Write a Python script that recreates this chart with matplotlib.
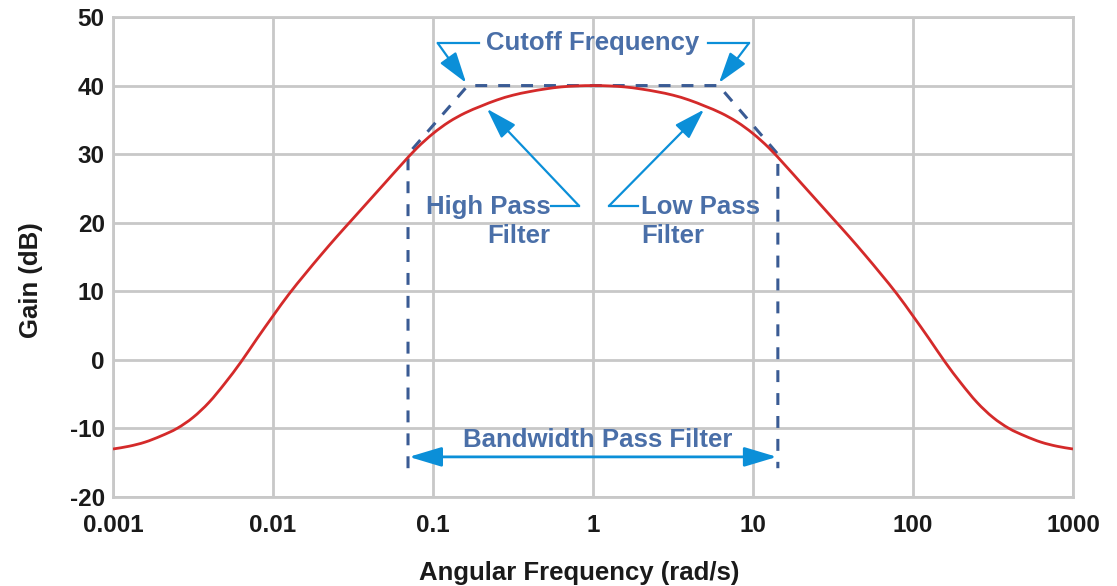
import matplotlib
matplotlib.use("Agg")
import matplotlib.pyplot as plt
from matplotlib.path import Path
from matplotlib.patches import PathPatch
import numpy as np

# ---- data ----
log_w = [-3.0, -2.9, -2.8, -2.7, -2.6, -2.5, -2.4, -2.3, -2.2, -2.1,
         -2.0, -1.9, -1.8, -1.7, -1.6, -1.5, -1.4, -1.3, -1.2, -1.1,
         -1.0, -0.9, -0.8, -0.7, -0.6, -0.5, -0.4, -0.3, -0.2, -0.1,
         0.0, 0.1, 0.2, 0.3, 0.4, 0.5, 0.6, 0.7, 0.8, 0.9,
         1.0, 1.1, 1.2, 1.3, 1.4, 1.5, 1.6, 1.7, 1.8, 1.9,
         2.0, 2.1, 2.2, 2.3, 2.4, 2.5, 2.6, 2.7, 2.8, 2.9, 3.0]
gain_db = [-13.0, -12.6, -12.0, -11.1, -10.0, -8.4, -6.2, -3.4, -0.3, 3.1,
           6.4, 9.6, 12.5, 15.3, 18.0, 20.6, 23.2, 25.8, 28.4, 30.9,
           33.0, 34.7, 36.0, 37.0, 37.9, 38.6, 39.1, 39.5, 39.8, 39.95,
           40.0, 39.95, 39.8, 39.5, 39.1, 38.6, 37.9, 37.0, 36.0, 34.7,
           33.0, 30.9, 28.4, 25.8, 23.2, 20.6, 18.0, 15.3, 12.5, 9.6,
           6.4, 3.1, -0.3, -3.4, -6.2, -8.4, -10.0, -11.1, -12.0, -12.6, -13.0]

asym_w = [0.0698, 0.0698, 0.165, 6.1, 14.3, 14.3]
asym_g = [-15.8, 30.0, 40.0, 40.0, 30.0, -15.8]

x_ticks = [0.001, 0.01, 0.1, 1, 10, 100, 1000]
x_tick_labels = ["0.001", "0.01", "0.1", "1", "10", "100", "1000"]
y_ticks = [-20, -10, 0, 10, 20, 30, 40, 50]
y_tick_labels = ["-20", "-10", "0", "10", "20", "30", "40", "50"]

# ---- styling ----
plt.rcParams['font.family'] = ['Liberation Sans', 'DejaVu Sans']
plt.rcParams['axes.unicode_minus'] = False
TXT = '#4a6fa8'
ARR = '#0b8fd8'
DASH = '#3a5b94'
GRID = '#c8c8c8'
FS_T = 17.5
FS_A = 18.5

fig = plt.figure(figsize=(11.17, 5.86), dpi=100)
W, H = 1117, 586
ax = fig.add_axes([113 / W, 1 - 497 / H, (1073 - 113) / W, (497 - 17) / H])

ax.set_xscale('log')
ax.set_xlim(0.001, 1000)
ax.set_ylim(-20, 50)
ax.set_xticks(x_ticks)
ax.set_xticklabels(x_tick_labels)
ax.set_yticks(y_ticks)
ax.set_yticklabels(y_tick_labels)
ax.minorticks_off()
ax.tick_params(length=0, labelsize=FS_T, colors='#1a1a1a')
ax.tick_params(axis='x', pad=12)
ax.tick_params(axis='y', pad=6)
for lab in ax.get_xticklabels() + ax.get_yticklabels():
    lab.set_fontweight('bold')
ax.grid(True, color=GRID, lw=2.0)
for s in ax.spines.values():
    s.set_color(GRID)
    s.set_linewidth(2.0)
ax.set_axisbelow(True)

# dashed asymptotes
ax.plot(asym_w, asym_g, color=DASH, lw=2.2, dashes=(3.9, 3.6), zorder=2)

# smooth gain curve: cubic Bezier through the read points (computed in log-x space)
lx = np.array(log_w)
gy = np.array(gain_db)
pts = np.column_stack([lx, gy])
ext = np.vstack([2 * pts[0] - pts[1], pts, 2 * pts[-1] - pts[-2]])
verts = [pts[0]]
codes = [Path.MOVETO]
for i in range(len(pts) - 1):
    p0, p1, p2, p3 = ext[i], ext[i + 1], ext[i + 2], ext[i + 3]
    c1 = p1 + (p2 - p0) / 6.0
    c2 = p2 - (p3 - p1) / 6.0
    verts += [c1, c2, p2]
    codes += [Path.CURVE4] * 3
verts = np.array(verts)
verts[:, 0] = 10 ** verts[:, 0]
ax.add_patch(PathPatch(Path(verts, codes), fill=False, edgecolor='#d42a2a', lw=2.0,
                       zorder=3, transform=ax.transData))

ax.set_xlabel('Angular Frequency (rad/s)', fontsize=FS_A, fontweight='bold', color='#1a1a1a')
ax.set_ylabel('Gain (dB)', fontsize=FS_A, fontweight='bold', color='#1a1a1a')
ax.xaxis.set_label_coords((579 - 113) / 960, -(561 - 497) / 480)
ax.yaxis.set_label_coords(-(113 - 43) / 960, (497 - 280) / 480)

aprops = dict(arrowstyle='-|>,head_length=1.9,head_width=0.6', color=ARR, lw=1.6,
              shrinkA=0, shrinkB=0, mutation_scale=10)

# Cutoff frequency
ax.text(1.0, 46.2, 'Cutoff Frequency', ha='center', va='center', fontsize=FS_A,
        fontweight='bold', color=TXT)
ax.plot([0.194, 0.107], [46.2, 46.2], color=ARR, lw=1.6)
ax.annotate('', xy=(0.161, 40.4), xytext=(0.107, 46.2), arrowprops=aprops)
ax.plot([5.23, 9.44], [46.2, 46.2], color=ARR, lw=1.6)
ax.annotate('', xy=(6.13, 40.4), xytext=(9.44, 46.2), arrowprops=aprops)

# High / Low pass
ax.text(0.54, 20.2, 'High Pass\nFilter', ha='right', va='center', fontsize=FS_A,
        fontweight='bold', color=TXT, linespacing=1.25, multialignment='right')
ax.plot([0.546, 0.818], [22.46, 22.46], color=ARR, lw=1.6)
ax.annotate('', xy=(0.2175, 36.6), xytext=(0.818, 22.46), arrowprops=aprops)

ax.text(1.99, 20.2, 'Low Pass\nFilter', ha='left', va='center', fontsize=FS_A,
        fontweight='bold', color=TXT, linespacing=1.25, multialignment='left')
ax.plot([1.26, 1.91], [22.46, 22.46], color=ARR, lw=1.6)
ax.annotate('', xy=(4.94, 36.5), xytext=(1.26, 22.46), arrowprops=aprops)

# Bandwidth
ax.text(1.075, -11.7, 'Bandwidth Pass Filter', ha='center', va='center', fontsize=FS_A,
        fontweight='bold', color=TXT)
ax.annotate('', xy=(0.0708, -14.15), xytext=(14.1, -14.15),
            arrowprops=dict(arrowstyle='<|-|>,head_length=2.0,head_width=0.6', color=ARR,
                            lw=2.0, shrinkA=0, shrinkB=0, mutation_scale=10))

fig.savefig('out.png', dpi=100)
